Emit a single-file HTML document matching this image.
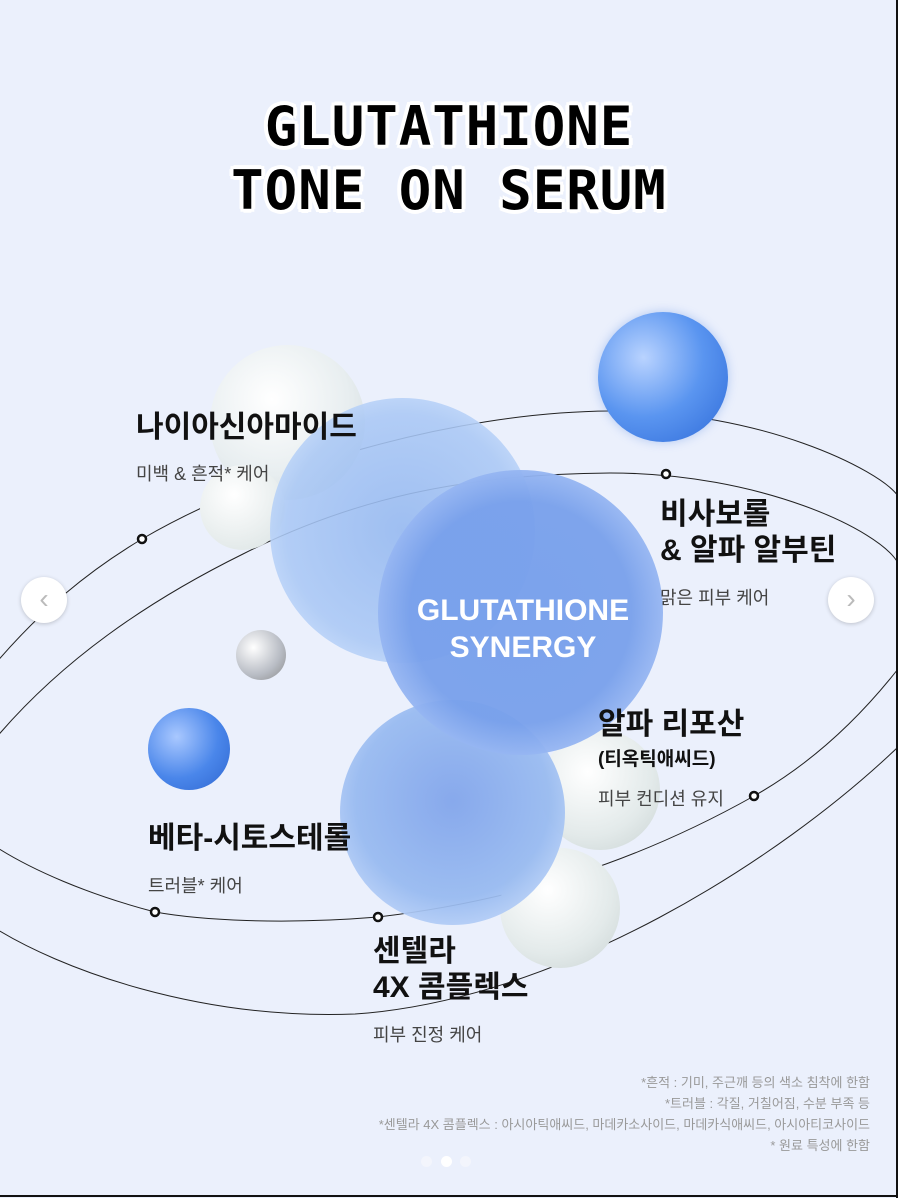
<!DOCTYPE html>
<html><head><meta charset="utf-8"><style>
html,body{margin:0;padding:0}
body{width:898px;height:1198px;position:relative;overflow:hidden;background:#ebf0fc;font-family:"Liberation Sans","Noto Sans CJK KR",sans-serif;}
.t{position:absolute;white-space:nowrap}
.title{left:0;width:898px;text-align:center;font-family:"DejaVu Sans Mono","Liberation Mono",monospace;font-weight:bold;font-size:54px;color:#000;letter-spacing:1px;
text-shadow:0 0 3px #fff,2px 2px 0 #fff,-2px -2px 0 #fff,2px -2px 0 #fff,-2px 2px 0 #fff,4px 0 0 #fff,-4px 0 0 #fff,0 4px 0 #fff,0 -4px 0 #fff,3px 3px 0 #fff,-3px -3px 0 #fff,3px -3px 0 #fff,-3px 3px 0 #fff}
.h{font-weight:bold;font-size:30px;color:#111;line-height:36px}
.s{font-size:18px;color:#444}
.sp{position:absolute;border-radius:50%}
.fn{right:28px;font-size:13px;color:#999;text-align:right;line-height:21px}
.arrow{position:absolute;width:46px;height:46px;border-radius:50%;background:#fff;box-shadow:0 1px 4px rgba(0,0,0,.2);color:#bbb;font-size:28px;text-align:center;line-height:44px}
</style></head><body>
<div class="t title" style="top:95px;line-height:64px">GLUTATHIONE<br>TONE ON SERUM</div>

<svg style="position:absolute;left:0;top:0" width="898" height="1198">
<g fill="none" stroke="#222" stroke-width="1">
<path d="M -10,670 C 40,610 90,570 142,539 C 260,470 450,412 610,411 C 760,410 880,470 898,496"/>
<path d="M 898,747 C 780,860 560,1000 355,1014 C 200,1020 60,970 -10,925"/>
<path d="M -10,745 C 60,660 150,600 243,554 C 350,500 460,474 610,473 C 760,473 880,530 898,563"/>
<path d="M 898,669 C 850,730 800,770 754,796 C 640,860 520,900 378,917 C 280,925 200,920 155,912 C 90,895 30,870 -10,843"/>
</g>
</svg>

<div class="sp" style="left:210px;top:345px;width:155px;height:155px;background:radial-gradient(circle at 40% 35%,#fff,#e8eef0 55%,#c9d3d6)"></div>
<div class="sp" style="left:200px;top:465px;width:85px;height:85px;background:radial-gradient(circle at 40% 35%,#fff,#d9e2e2)"></div>
<div class="sp" style="left:598px;top:312px;width:130px;height:130px;background:radial-gradient(circle at 35% 35%,#b9d3ff,#5a95f0 50%,#2e6ad8);box-shadow:0 0 10px rgba(90,140,230,.4)"></div>
<div class="sp" style="left:236px;top:630px;width:50px;height:50px;background:radial-gradient(circle at 35% 35%,#fff,#b8bcc4 60%,#888)"></div>
<div class="sp" style="left:148px;top:708px;width:82px;height:82px;background:radial-gradient(circle at 35% 35%,#a9c8ff,#4a86ea 55%,#2e66d0)"></div>
<div class="sp" style="left:270px;top:398px;width:265px;height:265px;background:radial-gradient(circle at 50% 50%,rgba(150,185,240,.9),rgba(170,200,245,.88) 62%,rgba(225,238,255,.95));"></div>
<div class="sp" style="left:540px;top:730px;width:120px;height:120px;background:radial-gradient(circle at 40% 35%,#fff,#e3eaea 60%,#c8d2d2)"></div>
<div class="sp" style="left:500px;top:848px;width:120px;height:120px;background:radial-gradient(circle at 40% 35%,#fff,#e3eaea 60%,#c8d2d2)"></div>
<div class="sp" style="left:340px;top:700px;width:225px;height:225px;background:radial-gradient(circle at 50% 45%,rgba(130,165,235,.95),rgba(150,185,240,.92) 58%,rgba(220,233,255,.95))"></div>
<div class="sp" style="left:378px;top:470px;width:285px;height:285px;background:radial-gradient(circle at 50% 50%,rgba(120,160,235,.97),rgba(120,160,235,.95) 55%,rgba(205,222,255,.95))"></div>

<svg style="position:absolute;left:0;top:0" width="898" height="1198">
<g fill="#fff" stroke="#111" stroke-width="2.5">
<circle cx="142" cy="539" r="4"/><circle cx="666" cy="474" r="4"/><circle cx="754" cy="796" r="4"/><circle cx="155" cy="912" r="4"/><circle cx="378" cy="917" r="4"/>
</g>
<line x1="0" y1="1196" x2="898" y2="1196" stroke="#111" stroke-width="2"/>
<line x1="897" y1="0" x2="897" y2="1198" stroke="#111" stroke-width="2"/>
</svg>

<div class="t" style="left:373px;top:592px;width:300px;text-align:center;color:#fff;font-weight:bold;font-size:30px;line-height:37px">GLUTATHIONE<br>SYNERGY</div>

<div class="t h" style="left:136px;top:410px">나이아신아마이드</div>
<div class="t s" style="left:136px;top:460px">미백 &amp; 흔적* 케어</div>
<div class="t h" style="left:660px;top:497px">비사보롤<br>&amp; 알파 알부틴</div>
<div class="t s" style="left:660px;top:584px">맑은 피부 케어</div>
<div class="t h" style="left:598px;top:707px">알파 리포산</div>
<div class="t" style="left:598px;top:744px;font-weight:bold;font-size:19px;color:#111">(티옥틱애씨드)</div>
<div class="t s" style="left:598px;top:785px">피부 컨디션 유지</div>
<div class="t h" style="left:148px;top:821px">베타-시토스테롤</div>
<div class="t s" style="left:148px;top:872px">트러블* 케어</div>
<div class="t h" style="left:373px;top:934px">센텔라<br>4X 콤플렉스</div>
<div class="t s" style="left:373px;top:1021px">피부 진정 케어</div>

<div class="arrow" style="left:21px;top:577px">‹</div>
<div class="arrow" style="left:828px;top:577px">›</div>

<div class="t fn" style="top:1072px">*흔적 : 기미, 주근깨 등의 색소 침착에 한함<br>*트러블 : 각질, 거칠어짐, 수분 부족 등<br>*센텔라 4X 콤플렉스 : 아시아틱애씨드, 마데카소사이드, 마데카식애씨드, 아시아티코사이드<br>* 원료 특성에 한함</div>
<div class="sp" style="left:421px;top:1156px;width:11px;height:11px;background:#f3f5fc"></div>
<div class="sp" style="left:441px;top:1156px;width:11px;height:11px;background:#fff"></div>
<div class="sp" style="left:460px;top:1156px;width:11px;height:11px;background:#f3f5fc"></div>
</body></html>
